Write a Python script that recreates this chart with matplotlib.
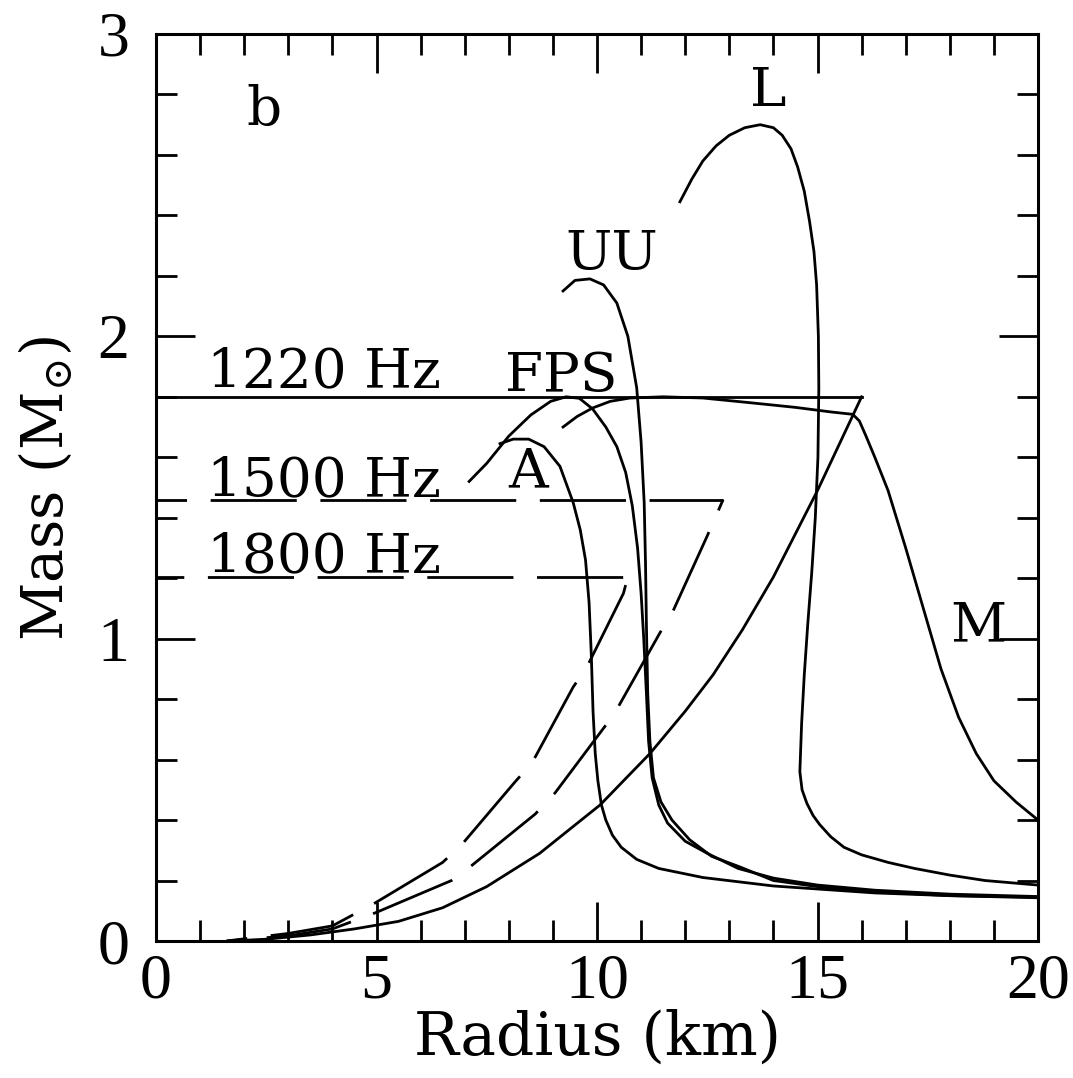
import matplotlib
matplotlib.use("Agg")
import matplotlib.pyplot as plt
from matplotlib.ticker import MultipleLocator

plt.rcParams['font.family'] = ['Liberation Serif', 'DejaVu Serif']
plt.rcParams['mathtext.fontset'] = 'dejavuserif'
plt.rcParams['lines.scale_dashes'] = False

# EOS mass-radius curves (radius km, mass Msun)
R_A = [7.8, 8.1, 8.45, 8.8, 9.16, 9.46, 9.62, 9.74, 9.82, 9.87, 9.91, 9.96,
       10.02, 10.1, 10.2, 10.35, 10.55, 10.9, 11.4, 12.4, 14.0, 16.3, 18.0, 20.0]
M_A = [1.645, 1.66, 1.66, 1.635, 1.57, 1.45, 1.36, 1.26, 1.12, 0.95, 0.76, 0.62,
       0.53, 0.45, 0.40, 0.35, 0.31, 0.27, 0.24, 0.21, 0.182, 0.159, 0.15, 0.145]

R_FPS = [7.1, 7.5, 8.0, 8.5, 8.95, 9.3, 9.6, 9.9, 10.2, 10.45, 10.65, 10.8, 10.92,
         11.0, 11.06, 11.12, 11.17, 11.25, 11.4, 11.6, 12.0, 12.5, 13.2, 14.0,
         15.0, 16.3, 18.0, 20.0]
M_FPS = [1.52, 1.58, 1.67, 1.74, 1.785, 1.80, 1.795, 1.76, 1.70, 1.635, 1.55,
         1.44, 1.30, 1.15, 1.0, 0.82, 0.66, 0.54, 0.45, 0.39, 0.33, 0.29, 0.24,
         0.208, 0.185, 0.168, 0.155, 0.147]

R_UU = [9.23, 9.5, 9.84, 10.15, 10.45, 10.7, 10.9, 11.0, 11.07, 11.1, 11.12,
        11.15, 11.2, 11.28, 11.45, 11.7, 12.1, 12.6, 13.24, 14.0, 15.1, 16.3,
        18.0, 20.0]
M_UU = [2.15, 2.185, 2.19, 2.17, 2.11, 2.0, 1.83, 1.65, 1.45, 1.25, 1.05, 0.82,
        0.66, 0.54, 0.46, 0.40, 0.335, 0.28, 0.245, 0.20, 0.178, 0.163, 0.150,
        0.143]

R_L = [11.88, 12.15, 12.4, 12.7, 13.0, 13.35, 13.7, 14.0, 14.2, 14.4, 14.55,
       14.7, 14.82, 14.92, 14.98, 15.02, 15.03, 15.01, 14.95, 14.87, 14.78,
       14.7, 14.64, 14.6, 14.65, 14.76, 14.9, 15.05, 15.3, 15.6, 16.0, 16.6,
       17.2, 18.0, 18.8, 20.0]
M_L = [2.445, 2.52, 2.58, 2.63, 2.665, 2.69, 2.70, 2.69, 2.665, 2.62, 2.56,
       2.48, 2.38, 2.28, 2.17, 2.0, 1.83, 1.6, 1.40, 1.22, 1.05, 0.88, 0.72,
       0.56, 0.50, 0.455, 0.415, 0.385, 0.345, 0.31, 0.285, 0.26, 0.24, 0.218,
       0.20, 0.185]

R_M = [9.23, 9.55, 9.9, 10.3, 10.75, 11.5, 12.4, 13.5, 14.5, 15.3, 15.8, 15.95,
       16.1, 16.3, 16.6, 17.0, 17.4, 17.8, 18.2, 18.6, 19.0, 19.5, 20.0]
M_M = [1.70, 1.735, 1.763, 1.785, 1.796, 1.80, 1.796, 1.78, 1.765, 1.75, 1.742,
       1.72, 1.67, 1.60, 1.49, 1.30, 1.10, 0.90, 0.74, 0.62, 0.53, 0.46, 0.40]

# spin-frequency limits: orbit curves and ISCO mass levels
R_1220 = [1.7, 2.5, 3.5, 4.5, 5.5, 6.5, 7.5, 8.7, 10.07, 11.2, 12.0, 12.63,
          13.3, 14.0, 15.0, 16.0]
M_1220 = [0.0, 0.006, 0.02, 0.04, 0.065, 0.11, 0.18, 0.29, 0.45, 0.62, 0.76,
          0.88, 1.03, 1.204, 1.49, 1.80]
R_1500 = [1.6, 3.0, 4.0, 4.97, 6.7, 7.12, 8.6, 9.05, 10.18, 10.48, 11.43, 11.72,
          12.5, 12.86]
M_1500 = [0.0, 0.017, 0.04, 0.093, 0.20, 0.245, 0.42, 0.49, 0.71, 0.774, 1.02,
          1.09, 1.34, 1.46]
R_1800 = [1.6, 3.0, 4.0, 4.97, 6.5, 6.94, 8.14, 8.53, 9.46, 9.77, 10.6, 10.7]
M_1800 = [0.0, 0.025, 0.05, 0.126, 0.26, 0.32, 0.526, 0.59, 0.84, 0.906, 1.15, 1.205]

FREQ_LABELS = ["1220 Hz", "1500 Hz", "1800 Hz"]
LEVEL_M = [1.80, 1.46, 1.205]
LEVEL_RMAX = [16.0, 12.86, 10.7]

fig = plt.figure(figsize=(10.73, 10.78), dpi=100)
W, H = 1073.0, 1078.0
ax = fig.add_axes([156 / W, 1 - 941 / H, (1038 - 156) / W, (941 - 34) / H])

lw = 2.0
k = "black"
for r, m in [(R_A, M_A), (R_FPS, M_FPS), (R_UU, M_UU), (R_L, M_L), (R_M, M_M)]:
    ax.plot(r, m, color=k, lw=lw)

# 1220 Hz solid, others dashed (lengths in points, 1px = 0.72pt)
on, off = 62, 17
ax.plot(R_1220, M_1220, color=k, lw=lw)
ax.plot([0, LEVEL_RMAX[0]], [LEVEL_M[0]] * 2, color=k, lw=lw)
ax.plot(R_1500, M_1500, color=k, lw=lw, linestyle=(50, (on, off)))
ax.plot([0, LEVEL_RMAX[1]], [LEVEL_M[1]] * 2, color=k, lw=lw, linestyle=(40, (on, off)))
ax.plot(R_1800, M_1800, color=k, lw=lw, linestyle=(47, (on, off)))
ax.plot([0, LEVEL_RMAX[2]], [LEVEL_M[2]] * 2, color=k, lw=lw, linestyle=(42, (on, off)))

lab_font = dict(fontsize=39.5, family="DejaVu Serif", va="baseline")
ax.text(2.06, 2.70, "b", ha="left", **lab_font)
ax.text(13.88, 2.76, "L", ha="center", **lab_font)
ax.text(9.28, 2.22, "UU", ha="left", **lab_font)
ax.text(7.91, 1.816, "FPS", ha="left", **lab_font)
ax.text(8.44, 1.50, "A", ha="center", **lab_font)
ax.text(18.0, 0.99, "M", ha="left", **lab_font)
for lab, y in zip(FREQ_LABELS, [1.83, 1.469, 1.22]):
    ax.text(1.16, y, lab, ha="left", **lab_font)

ax.set_xlim(0, 20)
ax.set_ylim(0, 3)
ax.xaxis.set_major_locator(MultipleLocator(5))
ax.xaxis.set_minor_locator(MultipleLocator(1))
ax.yaxis.set_major_locator(MultipleLocator(1))
ax.yaxis.set_minor_locator(MultipleLocator(0.2))
ax.tick_params(which="both", direction="in", top=True, right=True, width=2.0,
               labelsize=46)
ax.tick_params(which="major", length=28)
ax.tick_params(which="minor", length=15)
ax.tick_params(axis="x", pad=9)
ax.tick_params(axis="y", pad=19)
for s in ax.spines.values():
    s.set_linewidth(2.2)

fig.text(597 / W, 1 - 1055 / H, "Radius (km)", fontsize=43, family="DejaVu Serif",
         ha="center", va="baseline")
fig.text(63 / W, 1 - 489 / H, r"Mass (M$_{\odot}$)", fontsize=41, family="DejaVu Serif",
         ha="center", va="baseline", rotation=90, rotation_mode="anchor")

fig.savefig("out.png", dpi=100)
